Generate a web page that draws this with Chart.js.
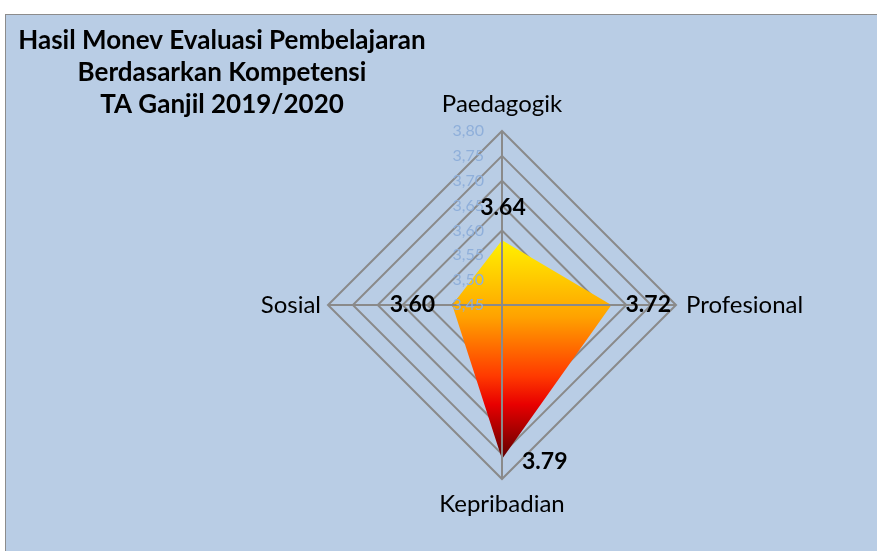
<!DOCTYPE html>
<html>
<head>
<meta charset="utf-8">
<script src="https://cdn.jsdelivr.net/npm/chart.js@4"></script>
<style>
  html, body { margin:0; padding:0; background:#fff; }
  #frame { position:absolute; left:5px; top:14px; width:880px; height:545px; background:#B9CDE5; border:1px solid #8c8c8c; box-sizing:border-box; }
  #wrap { position:absolute; left:0; top:0; width:877px; height:551px; }
</style>
</head>
<body>
<div id="frame"></div>
<div id="wrap"><canvas id="chart" width="877" height="551"></canvas></div>
<script>
// Data
const categories = ['Paedagogik', 'Profesional', 'Kepribadian', 'Sosial'];
const plotted = [3.58, 3.67, 3.76, 3.55];        // where the filled shape sits on the scale
const labelValues = [3.64, 3.72, 3.79, 3.60];    // data label texts shown on the chart
const titleLines = ['Hasil Monev Evaluasi Pembelajaran', 'Berdasarkan Kompetensi', 'TA Ganjil 2019/2020'];
const scaleMin = 3.45, scaleMax = 3.80, scaleStep = 0.05;

const FONT = 'Lato, "Open Sans", sans-serif';
const GRID = '#8a8a8a';

// gradient fill: yellow at top to dark red at bottom
function fireFill(ctx) {
  const c = ctx.chart, r = c.scales.r;
  if (!r || !c.chartArea) return '#FFA000';
  const top = r.getPointPositionForValue(0, plotted[0]).y;
  const bot = r.getPointPositionForValue(2, plotted[2]).y;
  const g = c.ctx.createLinearGradient(0, top, 0, bot);
  g.addColorStop(0, '#FFF200');
  g.addColorStop(0.35, '#FFA200');
  g.addColorStop(0.62, '#FF3A00');
  g.addColorStop(0.75, '#E80000');
  g.addColorStop(1, '#5E0000');
  return g;
}

const overlay = {
  id: 'overlay',
  afterDatasetsDraw(chart) {
    const r = chart.scales.r, ctx = chart.ctx;
    // axis lines sit above the fill
    ctx.save();
    ctx.strokeStyle = GRID; ctx.lineWidth = 2;
    categories.forEach((_, i) => {
      const p = r.getPointPosition(i, r.drawingArea);
      ctx.beginPath(); ctx.moveTo(r.xCenter, r.yCenter); ctx.lineTo(p.x, p.y); ctx.stroke();
    });
    ctx.restore();
  },
  afterDraw(chart) {
    const r = chart.scales.r, ctx = chart.ctx;
    ctx.save();
    // tick labels (comma decimals)
    ctx.font = '16px ' + FONT;
    ctx.fillStyle = '#8FAFDA';
    ctx.textAlign = 'right'; ctx.textBaseline = 'middle';
    r.ticks.forEach(t => {
      const y = r.yCenter - r.getDistanceFromCenterForValue(t.value);
      ctx.fillText(t.value.toFixed(2).replace('.', ','), r.xCenter - 18, y);
    });
    // category labels
    ctx.font = '24px ' + FONT;
    ctx.fillStyle = '#000';
    const pl = [
      {pad: 27, align: 'center'},
      {pad: 10, align: 'left'},
      {pad: 25, align: 'center'},
      {pad: 7, align: 'right'}
    ];
    categories.forEach((name, i) => {
      const p = r.getPointPosition(i, r.drawingArea + pl[i].pad);
      ctx.textAlign = pl[i].align;
      ctx.fillText(name, p.x, p.y);
    });
    // data labels
    ctx.font = 'bold 23px ' + FONT;
    const dl = [
      {dx: 1, dy: -3, align: 'center'},
      {dx: 12, dy: 0, align: 'center'},
      {dx: 20, dy: -12, align: 'left'},
      {dx: -15, dy: 0, align: 'center'}
    ];
    labelValues.forEach((v, i) => {
      const p = r.getPointPositionForValue(i, v);
      ctx.textAlign = dl[i].align;
      ctx.fillText(v.toFixed(2), p.x + dl[i].dx, p.y + dl[i].dy);
    });
    // title block
    ctx.font = 'bold 26px ' + FONT;
    ctx.textAlign = 'center';
    titleLines.forEach((line, i) => ctx.fillText(line, 222, 41 + i * 32));
    ctx.restore();
  }
};

new Chart(document.getElementById('chart'), {
  type: 'radar',
  data: {
    labels: categories,
    datasets: [{
      data: plotted,
      backgroundColor: fireFill,
      borderWidth: 0,
      pointRadius: 0,
      fill: true
    }]
  },
  options: {
    responsive: false,
    animation: false,
    layout: { padding: { left: 328, right: 201, top: 131, bottom: 72 } },
    plugins: { legend: { display: false }, tooltip: { enabled: false }, title: { display: false } },
    scales: {
      r: {
        min: scaleMin, max: scaleMax,
        ticks: { stepSize: scaleStep, display: false },
        grid: { color: GRID, lineWidth: 2, circular: false },
        angleLines: { color: GRID, lineWidth: 2 },
        pointLabels: { display: false }
      }
    }
  },
  plugins: [overlay]
});
</script>
</body>
</html>
